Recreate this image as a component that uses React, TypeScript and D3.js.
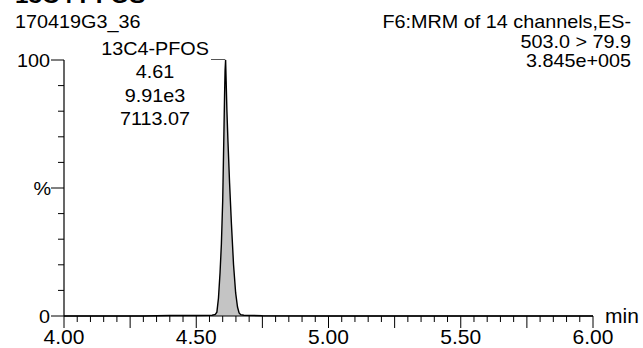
import React from "react";
import * as d3 from "d3";

const title = "13C4 PFOS";
const sampleName = "170419G3_36";
const headerLines = ["F6:MRM of 14 channels,ES-", "503.0 > 79.9", "3.845e+005"];
const peakLabels = ["13C4-PFOS", "4.61", "9.91e3", "7113.07"];
const apexTime = 4.61;

// chromatogram trace (time in min, relative intensity %)
const times = [4.0, 4.3, 4.4, 4.5, 4.56, 4.572, 4.578, 4.584, 4.59, 4.595, 4.6, 4.604, 4.607, 4.609, 4.611, 4.613, 4.616, 4.62, 4.626, 4.633, 4.641, 4.649, 4.656, 4.662, 4.668, 4.68, 4.75, 5.0, 6.0];
const intensity = [0, 0, 0.2, 0.2, 0.3, 0.6, 1.5, 7, 17, 28, 45, 68, 86, 96, 100, 92, 80, 68, 52, 36, 20, 9, 3.5, 1.2, 0.5, 0.3, 0.1, 0, 0];

const xTickLabels = ["4.00", "4.50", "5.00", "5.50", "6.00"];
const yTickLabels = ["0", "%", "100"];

const W = 643, H = 348;
const x = d3.scaleLinear().domain([4, 6]).range([64, 593]);
const y = d3.scaleLinear().domain([0, 100]).range([316, 60]);

const FONT = "'Liberation Sans', Arial, sans-serif";

function T({ x: tx, y: ty, anchor = "start", size = 18, sx = 1.1, weight = "normal", children }: any) {
  return (
    <text
      transform={`translate(${tx},${ty}) scale(${sx},1)`}
      textAnchor={anchor}
      fontSize={size}
      fontWeight={weight}
      fontFamily={FONT}
      fill="#000"
    >
      {children}
    </text>
  );
}

export default function App() {
  const data = times.map((t, i) => [t, intensity[i]] as [number, number]);
  const area = d3.area<[number, number]>().x((d) => x(d[0])).y0(y(0)).y1((d) => y(d[1]));
  const line = d3.line<[number, number]>().x((d) => x(d[0])).y((d) => y(d[1]));

  const xTicks = d3.range(0, 41).map((i) => 4 + i * 0.05);
  const yTicks = d3.range(0, 11).map((i) => i * 10);

  const apexX = x(apexTime);
  const apexY = y(100);

  return (
    <svg width={W} height={H} style={{ position: "absolute", left: 0, top: 0, background: "#fff" }}>
      <rect width={W} height={H} fill="#fff" />
      <T x={15} y={3} size={22} weight="bold">{title}</T>
      <T x={15} y={28}>{sampleName}</T>
      {headerLines.map((s, i) => (
        <T key={i} x={631} y={28 + i * 19.5} anchor="end">{s}</T>
      ))}
      {peakLabels.map((s, i) => (
        <T key={i} x={155} y={55 + i * 23.3} anchor="middle">{s}</T>
      ))}
      {/* leader line */}
      <line x1={211} x2={apexX} y1={apexY - 0.5} y2={apexY - 0.5} stroke="#555" strokeWidth={1} />

      {/* peak */}
      <path d={area(data) || ""} fill="#c4c4c4" />
      <path d={line(data) || ""} fill="none" stroke="#000" strokeWidth={1.4} />

      {/* y axis */}
      <line x1={64} x2={64} y1={y(100)} y2={y(0)} stroke="#000" strokeWidth={1.2} />
      {yTicks.map((v) => (
        <line key={v} x1={v % 50 === 0 ? 51 : 58} x2={64} y1={y(v)} y2={y(v)} stroke="#000" strokeWidth={1} />
      ))}
      <T x={50} y={y(0) + 6.5} anchor="end">{yTickLabels[0]}</T>
      <T x={51} y={y(50) + 6.5} anchor="end">{yTickLabels[1]}</T>
      <T x={50} y={y(100) + 6.5} anchor="end">{yTickLabels[2]}</T>

      {/* x axis */}
      <line x1={x(4)} x2={x(6)} y1={y(0)} y2={y(0)} stroke="#000" strokeWidth={1.2} />
      {xTicks.map((t, i) => (
        <line key={i} x1={x(t)} x2={x(t)} y1={y(0)} y2={y(0) + (i % 5 === 0 ? 12 : 6)} stroke="#000" strokeWidth={1} />
      ))}
      {xTickLabels.map((s) => (
        <T key={s} x={x(+s)} y={344} anchor="middle" size={20} sx={1.05}>{s}</T>
      ))}
      <T x={605} y={323} size={20} sx={1.05}>min</T>
    </svg>
  );
}
